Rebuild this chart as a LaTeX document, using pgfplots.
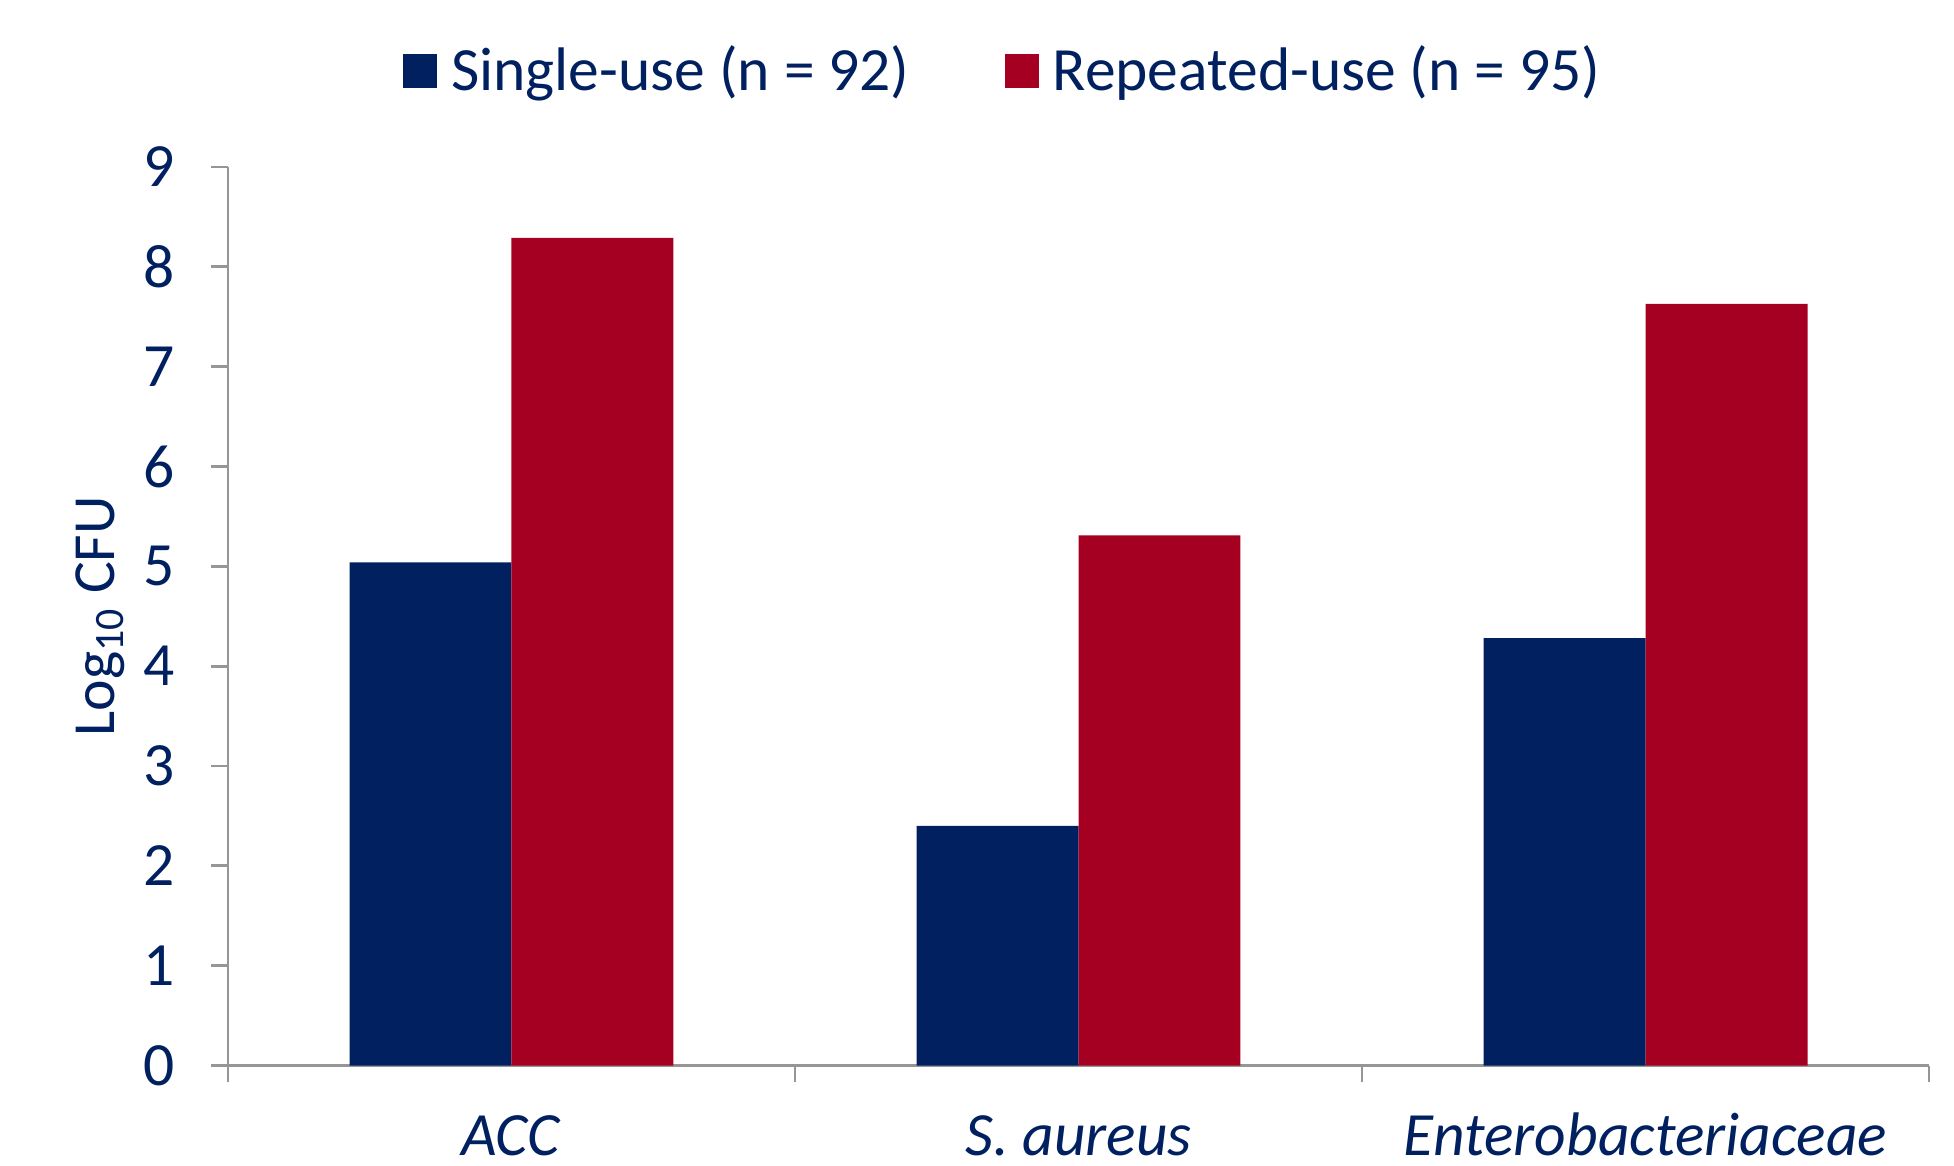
\documentclass[border=0pt]{standalone}
\usepackage{pgfplots}
\pgfplotsset{compat=1.18}
\usepackage{fontspec}
\setmainfont{Carlito}
\definecolor{navy}{RGB}{0,32,96}
\definecolor{darkred}{RGB}{165,0,33}
\definecolor{axgray}{RGB}{150,150,150}
\begin{document}
\begin{tikzpicture}
\path[use as bounding box] (-2.28cm,-0.995cm) rectangle (17.26cm,10.655cm);
\begin{axis}[
  at={(0,0)}, anchor=south west,
  scale only axis,
  width=17.01cm, height=8.985cm,
  ybar=0pt, bar width=0.2857,
  xmin=-0.5, xmax=2.5, ymin=0, ymax=9,
  ytick={0,1,...,9},
  xtick={-0.5,0.5,1.5,2.5},
  xticklabels={},
  extra x ticks={0,1,2},
  extra x tick labels={\textit{ACC},\textit{S. aureus},\textit{Enterobacteriaceae}},
  extra x tick style={major tick length=0pt, x tick label style={anchor=base, inner sep=0pt, text depth=0pt, yshift=-9.0mm}},
  axis x line=bottom, axis y line=left,
  axis line style={draw=axgray, line width=0.8pt, -},
  tick style={draw=axgray, line width=0.8pt},
  tick align=outside,
  major tick length=1.65mm,
  /pgf/number format/assume math mode=true,
  tick label style={font=\fontsize{17.5}{20}\selectfont, text=navy},
  y tick label style={inner sep=0pt},
  yticklabel shift=3.6mm,
  ylabel={Log\textsubscript{10} CFU},
  ylabel style={at={(axis description cs:-0.0752,0.5)}, anchor=center, font=\fontsize{17}{20}\selectfont, text=navy},
  legend style={at={(axis description cs:0.0964,1.1069)}, anchor=west, draw=none, fill=none,
    legend columns=2, font=\fontsize{17.5}{20}\selectfont, text=navy,
    /tikz/every even column/.append style={column sep=8.7mm},
    nodes={inner sep=0.8mm}},
  legend image code/.code={\fill[#1] (0cm,-0.17cm) rectangle (0.34cm,0.17cm); \path (0.40cm,0);},
]
\addplot[fill=navy, draw=none] coordinates {(0,5.04) (1,2.40) (2,4.28)};
\addplot[fill=darkred, draw=none] coordinates {(0,8.29) (1,5.31) (2,7.63)};
\legend{Single-use (n = 92), Repeated-use (n = 95)}
\end{axis}
\end{tikzpicture}
\end{document}
